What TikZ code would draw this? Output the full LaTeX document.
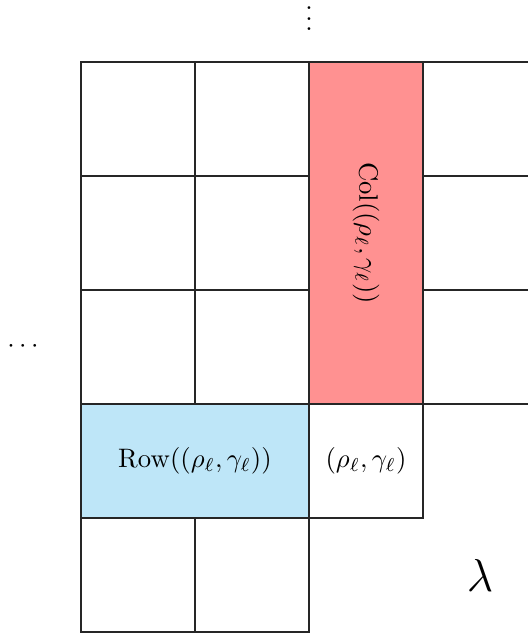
\documentclass[tikz,border=0pt]{standalone}
\usepackage{amssymb,amsmath}
\usepackage{tikz}
\usetikzlibrary{shapes,positioning}
\definecolor{colpink}{RGB}{255,145,145}
\definecolor{rowblue}{RGB}{190,230,248}
\tikzstyle{every node}=[anchor=center]
\tikzstyle{cell}=[draw=black!85,thin]
\tikzstyle{colcells}=[cell,fill=colpink]
\tikzstyle{rowcells}=[cell,fill=rowblue]

\begin{document}
\begin{tikzpicture}[x=1.5cm,y=1.5cm]
  \clip (-0.7105,0.5439) rectangle (3.921,-5.009);
  % full rows
  \foreach \r in {0,1,2}{
    \foreach \c in {0,1,3}
      \draw[cell] (\c,-\r) rectangle (\c+1,-\r-1);
  }
  \draw[colcells] (2,0) rectangle (3,-3);
  \draw[rowcells] (0,-3) rectangle (2,-4);
  \draw[cell] (2,-3) rectangle (3,-4);
  \foreach \c in {0,1}
    \draw[cell] (\c,-4) rectangle (\c+1,-5);
  \node[rotate=-90] (col) at (2.5,-1.5) {$\mathrm{Col}((\rho_\ell,\gamma_\ell))$};
  \node (row) at (1,-3.5) {$\mathrm{Row}((\rho_\ell,\gamma_\ell))$};
  \node (corner) at (2.5,-3.5) {$(\rho_\ell,\gamma_\ell)$};
  \node (lam) at (3.5,-4.5) {\fontsize{18.5}{22}\selectfont $\lambda$};
  \node (vd) at (2,0.45) {$\vdots$};
  \node (hd) at (-0.49,-2.5) {$\cdots$};
\end{tikzpicture}
\end{document}
